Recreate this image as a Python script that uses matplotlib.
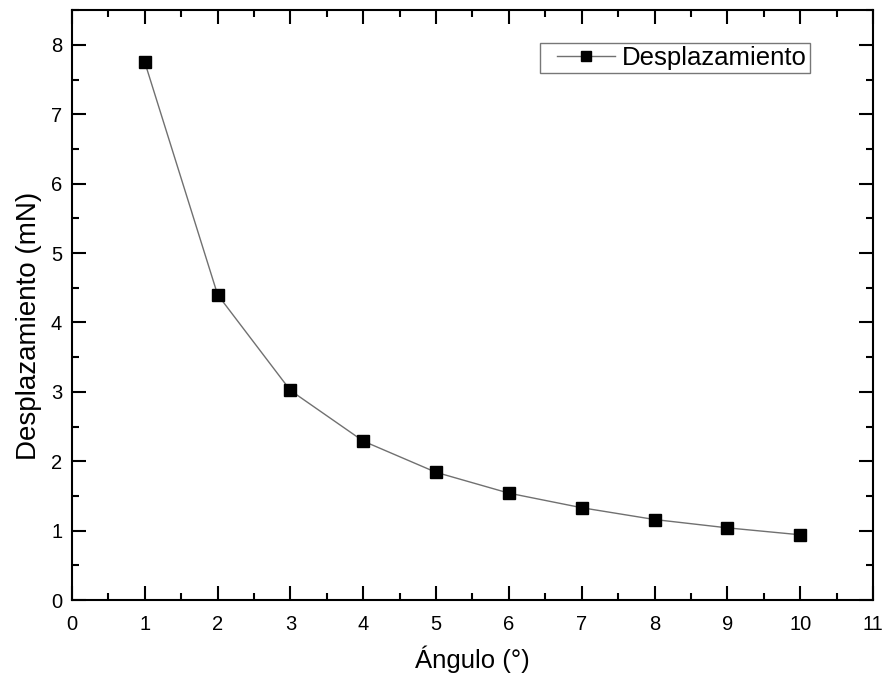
import matplotlib.pyplot as plt
from matplotlib.legend_handler import HandlerLine2D
from matplotlib.lines import Line2D
from matplotlib.ticker import MultipleLocator

plt.rcParams["font.family"] = ["Liberation Sans", "DejaVu Sans"]

# angle (degrees) vs displacement (mN)
angulo = [1, 2, 3, 4, 5, 6, 7, 8, 9, 10]
desplazamiento = [7.75, 4.40, 3.02, 2.29, 1.84, 1.54, 1.33, 1.16, 1.04, 0.94]

fig = plt.figure(figsize=(8.84, 6.77), dpi=100)
ax = fig.add_axes([0.0814, 0.1137, 0.9062, 0.8713])

ax.plot(angulo, desplazamiento, color="#707070", linewidth=1.0,
        marker="s", markersize=9, markerfacecolor="black",
        markeredgecolor="black", label="Desplazamiento")

ax.set_xlim(0, 11)
ax.set_ylim(0, 8.5)
ax.xaxis.set_major_locator(MultipleLocator(1))
ax.xaxis.set_minor_locator(MultipleLocator(0.5))
ax.yaxis.set_major_locator(MultipleLocator(1))
ax.yaxis.set_minor_locator(MultipleLocator(0.5))

ax.tick_params(which="both", direction="in", top=True, right=True,
               labeltop=False, labelright=False, width=1.5)
ax.tick_params(which="major", length=10, labelsize=14.5)
ax.tick_params(axis="x", which="major", pad=11)
ax.tick_params(axis="y", which="major", pad=7)
ax.tick_params(which="minor", length=5)
for spine in ax.spines.values():
    spine.set_linewidth(1.5)

ax.set_xlabel("Ángulo (°)", fontsize=18.5, labelpad=8)
ax.set_ylabel("Desplazamiento (mN)", fontsize=20)
ax.yaxis.set_label_coords(-0.038, 0.464)

leg = ax.legend(loc="upper right", bbox_to_anchor=(0.921, 0.944),
                fontsize=18.5, frameon=True, fancybox=False,
                edgecolor="#555555", handlelength=2.8, borderpad=0.12,
                handletextpad=0.27, borderaxespad=0, markerscale=0.85,
                handler_map={Line2D: HandlerLine2D(xpad=0.55)})
leg.get_frame().set_linewidth(1.0)

fig.savefig("out.png", dpi=100)
